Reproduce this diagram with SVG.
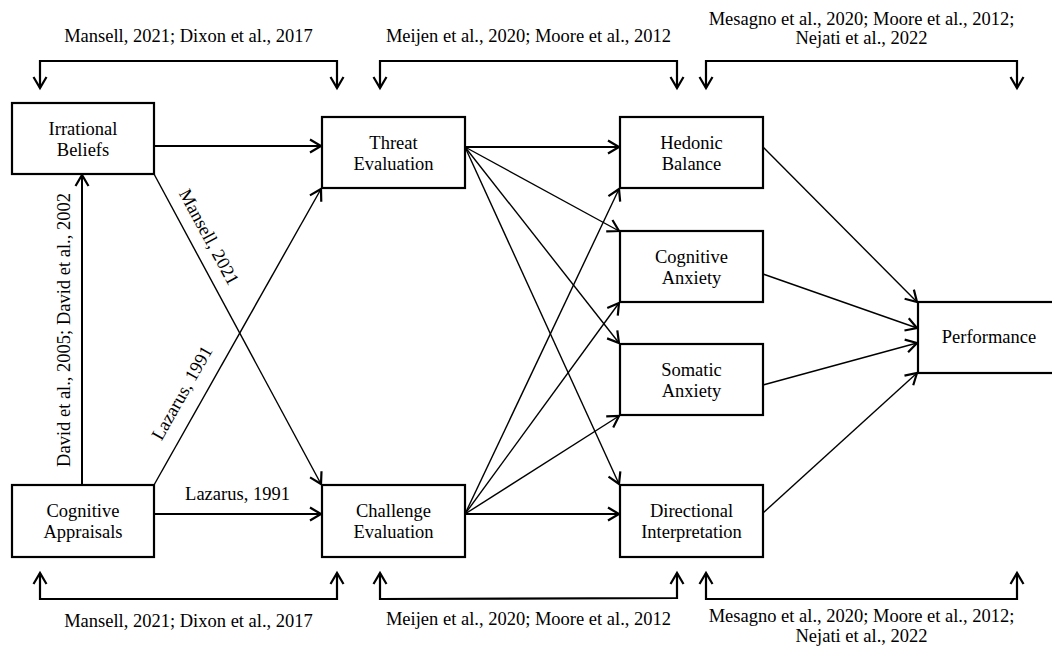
<svg xmlns="http://www.w3.org/2000/svg" width="1052" height="650" viewBox="0 0 1052 650" font-family="Liberation Serif, Times New Roman, DejaVu Serif, serif" font-size="18.5">
<style>
  text { font-family: 'Liberation Serif', 'Times New Roman', 'DejaVu Serif', serif; font-size: 18.5px; fill: #000; }
  .box rect { fill: #fff; stroke: #000; stroke-width: 2.2; }
  .box text { text-anchor: middle; }
  .lbl { text-anchor: middle; }
  .thick { stroke: #000; stroke-width: 2; fill: none; marker-end: url(#ah); }
  .thin { stroke: #000; stroke-width: 1.4; fill: none; marker-end: url(#ah); }
  .br { stroke: #000; stroke-width: 2.2; fill: none; marker-start: url(#ah); marker-end: url(#ah); }
</style>
<defs>
  <marker id="ah" viewBox="-14 -9 16 18" refX="0" refY="0" markerWidth="16" markerHeight="18" markerUnits="userSpaceOnUse" orient="auto-start-reverse" overflow="visible">
    <path d="M-11,-6.5 L0,0 L-11,6.5" fill="none" stroke="#000" stroke-width="2.2"/>
  </marker>
</defs>
<rect width="1052" height="650" fill="#fff"/>

<g id="connectors">
  <line class="thick" x1="154" y1="146" x2="321" y2="146"/>
  <line class="thick" x1="154" y1="514" x2="321" y2="514"/>
  <line class="thick" x1="82" y1="485" x2="82" y2="175"/>
  <line class="thin" x1="154" y1="174" x2="321" y2="484"/>
  <line class="thin" x1="154" y1="485" x2="321" y2="189"/>
  <line class="thick" x1="465" y1="147" x2="619" y2="147"/>
  <line class="thin" x1="465" y1="147" x2="619" y2="231"/>
  <line class="thin" x1="465" y1="147" x2="619" y2="343"/>
  <line class="thin" x1="465" y1="147" x2="619" y2="484"/>
  <line class="thick" x1="465" y1="514" x2="619" y2="514"/>
  <line class="thin" x1="465" y1="514" x2="619" y2="416"/>
  <line class="thin" x1="465" y1="514" x2="619" y2="303"/>
  <line class="thin" x1="465" y1="514" x2="619" y2="189"/>
  <line class="thin" x1="763" y1="147" x2="917" y2="302"/>
  <line class="thin" x1="763" y1="274" x2="917" y2="328"/>
  <line class="thin" x1="763" y1="385" x2="917" y2="343"/>
  <line class="thin" x1="763" y1="513" x2="917" y2="373"/>
  <path class="br" d="M40,88 L40,61 L337,61 L337,88"/>
  <path class="br" d="M380,88 L380,61 L677,61 L677,88"/>
  <path class="br" d="M706,88 L706,61 L1017,61 L1017,88"/>
  <path class="br" d="M40,573 L40,599 L337,599 L337,573"/>
  <path class="br" d="M380,573 L380,599 L677,598 L677,573"/>
  <path class="br" d="M706,573 L706,599 L1017,599 L1017,573"/>
</g>

<g id="labels">
  <text class="lbl" x="188.5" y="42">Mansell, 2021; Dixon et al., 2017</text>
  <text class="lbl" x="528.5" y="42">Meijen et al., 2020; Moore et al., 2012</text>
  <text class="lbl" x="861.5" y="25">Mesagno et al., 2020; Moore et al., 2012;</text>
  <text class="lbl" x="861.5" y="44">Nejati et al., 2022</text>
  <text class="lbl" x="188.5" y="627">Mansell, 2021; Dixon et al., 2017</text>
  <text class="lbl" x="528.5" y="625">Meijen et al., 2020; Moore et al., 2012</text>
  <text class="lbl" x="861.5" y="622">Mesagno et al., 2020; Moore et al., 2012;</text>
  <text class="lbl" x="861.5" y="642">Nejati et al., 2022</text>
  <text class="lbl" x="237.5" y="500">Lazarus, 1991</text>
  <text class="lbl" transform="translate(70,330) rotate(-90)" x="0" y="0">David et al., 2005; David et al., 2002</text>
  <text class="lbl" transform="translate(209,237) rotate(61.6)" x="0" y="6">Mansell, 2021</text>
  <text class="lbl" transform="translate(182,393) rotate(-60.5)" x="0" y="6">Lazarus, 1991</text>
</g>

<g id="irrational-beliefs" class="box">
  <rect x="12" y="103" width="142" height="71"/>
  <text x="83" y="135">Irrational</text>
  <text x="83" y="156">Beliefs</text>
</g>
<g id="cognitive-appraisals" class="box">
  <rect x="12" y="485" width="142" height="72"/>
  <text x="83" y="517">Cognitive</text>
  <text x="83" y="538">Appraisals</text>
</g>
<g id="threat-evaluation" class="box">
  <rect x="322" y="117" width="143" height="71"/>
  <text x="393.5" y="149">Threat</text>
  <text x="393.5" y="170">Evaluation</text>
</g>
<g id="challenge-evaluation" class="box">
  <rect x="322" y="485" width="143" height="72"/>
  <text x="393.5" y="517">Challenge</text>
  <text x="393.5" y="538">Evaluation</text>
</g>
<g id="hedonic-balance" class="box">
  <rect x="620" y="117" width="143" height="71"/>
  <text x="691.5" y="149">Hedonic</text>
  <text x="691.5" y="170">Balance</text>
</g>
<g id="cognitive-anxiety" class="box">
  <rect x="620" y="231" width="143" height="71"/>
  <text x="691.5" y="263">Cognitive</text>
  <text x="691.5" y="284">Anxiety</text>
</g>
<g id="somatic-anxiety" class="box">
  <rect x="620" y="344" width="143" height="71"/>
  <text x="691.5" y="376">Somatic</text>
  <text x="691.5" y="397">Anxiety</text>
</g>
<g id="directional-interpretation" class="box">
  <rect x="620" y="485" width="143" height="72"/>
  <text x="691.5" y="517">Directional</text>
  <text x="691.5" y="538">Interpretation</text>
</g>
<g id="performance" class="box">
  <rect x="918" y="302" width="142" height="71"/>
  <text x="989" y="343">Performance</text>
</g>
</svg>
